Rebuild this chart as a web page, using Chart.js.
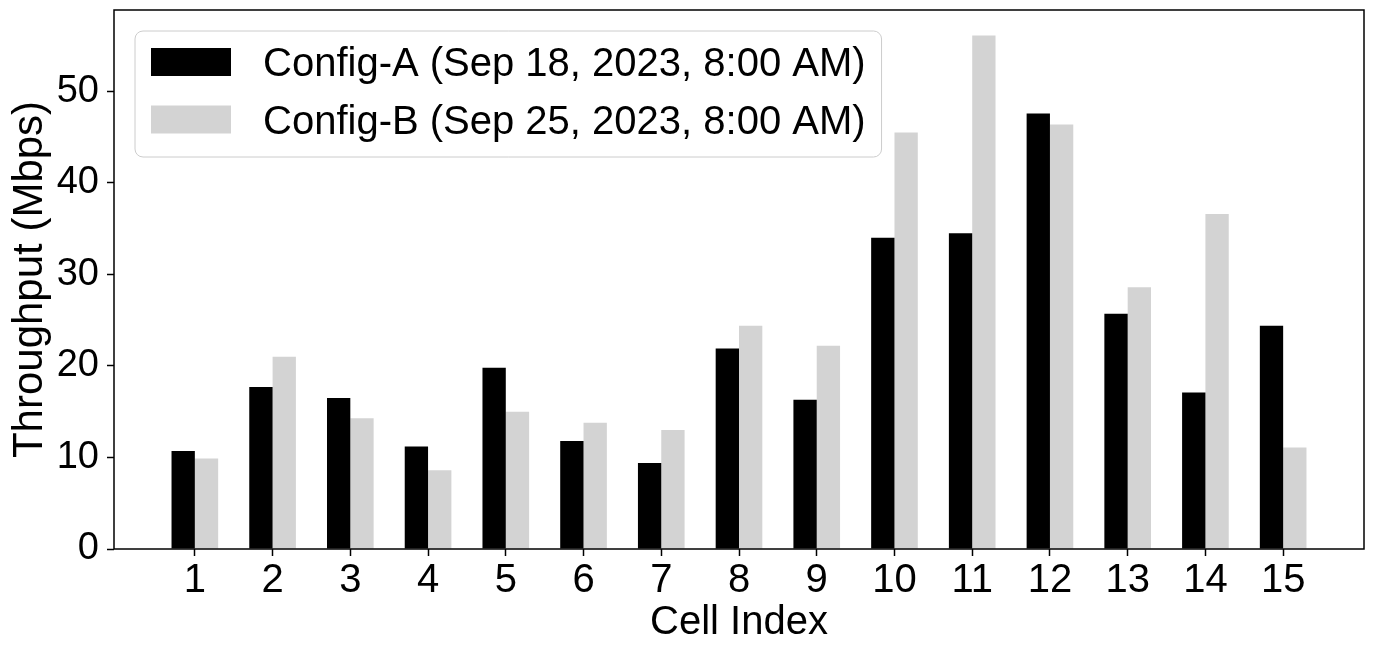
<!DOCTYPE html>
<html>
<head>
<meta charset="utf-8">
<title>Throughput per cell</title>
<script src="https://cdn.jsdelivr.net/npm/chart.js@4.4.0/dist/chart.umd.min.js"></script>
<style>
  html, body { margin: 0; padding: 0; background: #ffffff; }
  #wrap { width: 1374px; height: 647px; }
</style>
</head>
<body>
<div id="wrap"><canvas id="chart" width="1374" height="647"></canvas></div>
<script>
// values
const cellIndex = [1, 2, 3, 4, 5, 6, 7, 8, 9, 10, 11, 12, 13, 14, 15];
const configA = [10.7, 17.7, 16.5, 11.2, 19.8, 11.8, 9.4, 21.9, 16.3, 34.0, 34.5, 47.6, 25.7, 17.1, 24.4];
const configB = [9.9, 21.0, 14.3, 8.6, 15.0, 13.8, 13.0, 24.4, 22.2, 45.5, 56.1, 46.4, 28.6, 36.6, 11.1];
const seriesLabels = ['Config-A (Sep 18, 2023, 8:00 AM)', 'Config-B (Sep 25, 2023, 8:00 AM)'];
const seriesColors = ['#000000', '#d3d3d3'];
const yTicks = [0, 10, 20, 30, 40, 50];

const FONT = "'Liberation Sans', Arial, sans-serif";
Chart.defaults.font.family = FONT;
Chart.defaults.color = '#000000';

// black frame round the plot area (like matplotlib spines)
const framePlugin = {
  id: 'frame',
  afterDatasetsDraw(chart) {
    const { ctx, chartArea: a } = chart;
    ctx.save();
    ctx.strokeStyle = '#000000';
    ctx.lineWidth = 1.5;
    ctx.strokeRect(a.left, a.top, a.right - a.left, a.bottom - a.top);
    ctx.restore();
  }
};

// legend boxed inside the upper left corner of the plot
const boxLegend = {
  id: 'boxLegend',
  afterDraw(chart) {
    const { ctx, chartArea: a } = chart;
    const fontSize = 40;
    const x0 = a.left + 21, y0 = a.top + 21;
    const swW = 80, swH = 28, pad = 16, gap = 32, rowStep = 57.5;
    ctx.save();
    ctx.font = fontSize + 'px ' + FONT;
    const textW = Math.max(...chart.data.datasets.map(d => ctx.measureText(d.label).width));
    const w = pad + swW + gap + textW + pad;
    const h = 126;
    ctx.beginPath();
    ctx.roundRect(x0, y0, w, h, 8);
    ctx.fillStyle = 'rgba(255,255,255,0.8)';
    ctx.fill();
    ctx.strokeStyle = '#cccccc';
    ctx.lineWidth = 1;
    ctx.stroke();
    chart.data.datasets.forEach((d, i) => {
      const cy = y0 + 31 + i * rowStep;
      ctx.fillStyle = d.backgroundColor;
      ctx.fillRect(x0 + pad, cy - swH / 2, swW, swH);
      ctx.fillStyle = '#000000';
      ctx.textBaseline = 'alphabetic';
      ctx.textAlign = 'left';
      ctx.fillText(d.label, x0 + pad + swW + gap, cy + 0.358 * fontSize);
    });
    ctx.restore();
  }
};

const ctx = document.getElementById('chart').getContext('2d');
new Chart(ctx, {
  type: 'bar',
  data: {
    datasets: [
      {
        label: seriesLabels[0],
        data: cellIndex.map((c, i) => ({ x: c, y: configA[i] })),
        backgroundColor: seriesColors[0],
        categoryPercentage: 0.6,
        barPercentage: 1.0,
      },
      {
        label: seriesLabels[1],
        data: cellIndex.map((c, i) => ({ x: c, y: configB[i] })),
        backgroundColor: seriesColors[1],
        categoryPercentage: 0.6,
        barPercentage: 1.0,
      },
    ],
  },
  options: {
    responsive: false,
    animation: false,
    devicePixelRatio: 1,
    layout: { padding: { top: 10, right: 10, left: 0, bottom: 0 } },
    plugins: {
      legend: { display: false },
      tooltip: { enabled: false },
    },
    scales: {
      x: {
        type: 'linear',
        min: -0.04,
        max: 16.04,
        offset: false,
        afterBuildTicks: (axis) => { axis.ticks = cellIndex.map(v => ({ value: v })); },
        afterFit: (axis) => { axis.height = 98; axis.paddingLeft = 0; axis.paddingRight = 0; },
        grid: {
          offset: false,
          drawOnChartArea: false,
          drawTicks: true,
          tickLength: 7,
          tickWidth: 1.5,
          tickColor: '#000000',
        },
        border: { display: false },
        ticks: { autoSkip: false, maxRotation: 0, padding: 1, color: '#000000', font: { size: 40 } },
        title: { display: true, text: 'Cell Index', color: '#000000', font: { size: 40 }, padding: { top: 0, bottom: 0 } },
      },
      y: {
        min: 0,
        max: 58.9,
        afterBuildTicks: (axis) => { axis.ticks = yTicks.map(v => ({ value: v })); },
        afterFit: (axis) => { axis.width = 114; axis.paddingTop = 0; axis.paddingBottom = 0; },
        grid: {
          drawOnChartArea: false,
          drawTicks: true,
          tickLength: 7,
          tickWidth: 1.5,
          tickColor: '#000000',
        },
        border: { display: false },
        ticks: { padding: 8, color: '#000000', font: { size: 38 } },
        title: { display: true, text: 'Throughput (Mbps)', color: '#000000', font: { size: 42 }, padding: { top: 5, bottom: 0 } },
      },
    },
  },
  plugins: [framePlugin, boxLegend],
});
</script>
</body>
</html>
